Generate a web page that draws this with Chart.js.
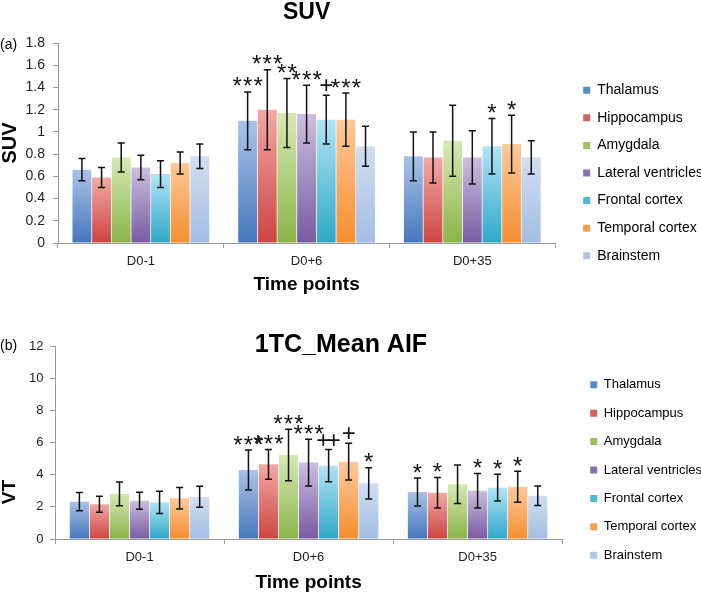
<!DOCTYPE html>
<html>
<head>
<meta charset="utf-8">
<script src="https://cdn.jsdelivr.net/npm/chart.js@4.4.1/dist/chart.umd.min.js"></script>
<style>
  html, body { margin: 0; padding: 0; background: #fff; overflow: hidden; }
  #wrap { position: relative; width: 701px; height: 594px; overflow: hidden; }
  canvas { position: absolute; left: 0; }
  #suvChart { top: 0; }
  #vtChart { top: 297px; }
</style>
</head>
<body>
<div id="wrap">
  <canvas id="suvChart" width="713" height="346"></canvas>
  <canvas id="vtChart" width="713" height="297"></canvas>
</div>
<script>
const timePoints = ["D0-1", "D0+6", "D0+35"];
const regions = ["Thalamus", "Hippocampus", "Amygdala", "Lateral ventricles",
  "Frontal cortex", "Temporal cortex", "Brainstem"];

// one row per region, one value per time point
const suvMean = [
  [0.66, 1.10, 0.78],
  [0.59, 1.20, 0.77],
  [0.77, 1.17, 0.92],
  [0.68, 1.16, 0.77],
  [0.62, 1.11, 0.87],
  [0.72, 1.11, 0.89],
  [0.78, 0.87, 0.77]
];
const suvSd = [
  [0.10, 0.26, 0.22],
  [0.09, 0.36, 0.23],
  [0.13, 0.31, 0.32],
  [0.11, 0.26, 0.24],
  [0.12, 0.22, 0.25],
  [0.10, 0.24, 0.26],
  [0.11, 0.18, 0.15]
];
const suvSig = [
  ["", "***", ""],
  ["", "***", ""],
  ["", "**", ""],
  ["", "***", ""],
  ["", "+", "*"],
  ["", "***", "*"],
  ["", "", ""]
];

const vtMean = [
  [2.32, 4.29, 2.92],
  [2.16, 4.64, 2.88],
  [2.80, 5.22, 3.40],
  [2.38, 4.75, 3.00],
  [2.28, 4.56, 3.19],
  [2.53, 4.81, 3.25],
  [2.63, 3.46, 2.69]
];
const vtSd = [
  [0.57, 1.24, 0.87],
  [0.50, 0.93, 0.95],
  [0.74, 1.60, 1.20],
  [0.53, 1.45, 1.07],
  [0.69, 1.00, 0.83],
  [0.67, 1.14, 0.97],
  [0.65, 0.97, 0.60]
];
const vtSig = [
  ["", "***", "*"],
  ["", "***", "*"],
  ["", "***", ""],
  ["", "***", "*"],
  ["", "++", "*"],
  ["", "+", "*"],
  ["", "*", ""]
];

const suvMax = 1.8, suvStep = 0.2;
const vtMax = 12, vtStep = 2;

// light top, dark bottom, legend swatch
const shades = [
  ["#aac3e6", "#4477bd", "#5a8acb"],
  ["#f3a8a5", "#cc4541", "#d65f5b"],
  ["#d7e9b4", "#8ab348", "#9dc160"],
  ["#ccbee0", "#785aa2", "#8a70b0"],
  ["#b2e4f5", "#2ea8c8", "#4cb9d6"],
  ["#fdc99b", "#f68e2f", "#f79c4a"],
  ["#d2def1", "#a3bde2", "#adc5e6"]
];

Chart.defaults.font.family = "'Liberation Sans', Arial, sans-serif";
Chart.defaults.color = "#222";

function barFill(i) {
  return function (c) {
    const [light, dark, swatch] = shades[i];
    if (c.type !== "data" || !c.chart.chartArea) return swatch;
    const y = c.chart.scales.y;
    const top = y.getPixelForValue(c.raw);
    const base = y.getPixelForValue(0);
    const g = c.chart.ctx.createLinearGradient(0, top, 0, base);
    g.addColorStop(0, light);
    g.addColorStop(1, dark);
    return g;
  };
}

function buildDatasets(means, sds, marks) {
  return regions.map((name, i) => ({
    label: name,
    data: means[i],
    errors: sds[i],
    marks: marks[i],
    yAxisID: "y",
    backgroundColor: barFill(i),
    borderWidth: 0,
    categoryPercentage: 0.83,
    barPercentage: 0.96
  }));
}

function legendLabels(chart) {
  const items = Chart.defaults.plugins.legend.labels.generateLabels(chart);
  items.forEach((it) => {
    it.fillStyle = shades[it.datasetIndex][2];
    it.lineWidth = 0;
  });
  return items;
}

// error bars and significance marks
const errorBars = {
  id: "errorBars",
  afterDatasetsDraw(chart, args, opts) {
    const ctx = chart.ctx;
    const y = chart.scales.y;
    chart.data.datasets.forEach((ds, i) => {
      const meta = chart.getDatasetMeta(i);
      meta.data.forEach((bar, j) => {
        const m = ds.data[j], s = ds.errors[j];
        const yt = y.getPixelForValue(m + s);
        const yb = y.getPixelForValue(m - s);
        ctx.save();
        ctx.strokeStyle = "#111";
        ctx.lineWidth = 1.5;
        ctx.beginPath();
        ctx.moveTo(bar.x, yt); ctx.lineTo(bar.x, yb);
        ctx.moveTo(bar.x - 3.5, yt); ctx.lineTo(bar.x + 3.5, yt);
        ctx.moveTo(bar.x - 3.5, yb); ctx.lineTo(bar.x + 3.5, yb);
        ctx.stroke();
        const mark = ds.marks[j];
        if (mark) {
          ctx.fillStyle = "#111";
          ctx.font = opts.markFont;
          ctx.textAlign = "center";
          ctx.textBaseline = "alphabetic";
          const n = mark.length;
          for (let k = 0; k < n; k++) {
            const mt = ctx.measureText(mark[k]);
            const cy = yt - opts.markGap;
            const base = cy + (mt.actualBoundingBoxAscent - mt.actualBoundingBoxDescent) / 2;
            ctx.fillText(mark[k], bar.x + (k - (n - 1) / 2) * opts.markStep, base);
          }
        }
        ctx.restore();
      });
    });
  }
};

// free text: panel tags, titles placed over the plot
const panelText = {
  id: "panelText",
  afterDraw(chart, args, opts) {
    const ctx = chart.ctx;
    (opts.items || []).forEach((t) => {
      ctx.save();
      ctx.font = t.font;
      ctx.fillStyle = "#000";
      ctx.textAlign = t.align || "center";
      ctx.textBaseline = "middle";
      ctx.translate(t.x, t.y);
      if (t.rotate) ctx.rotate(t.rotate);
      ctx.fillText(t.text, 0, 0);
      ctx.restore();
    });
  }
};

function makeChart(id, datasets, cfg) {
  return new Chart(document.getElementById(id), {
    type: "bar",
    data: { labels: timePoints, datasets: datasets },
    plugins: [errorBars, panelText],
    options: {
      responsive: false,
      animation: false,
      layout: { padding: cfg.padding },
      plugins: {
        tooltip: { enabled: false },
        title: cfg.title,
        legend: {
          position: "right",
          maxWidth: 220,
          labels: {
            boxWidth: 7,
            boxHeight: 7,
            padding: cfg.legendPad,
            color: "#000",
            font: { size: cfg.legendFont },
            generateLabels: legendLabels
          }
        },
        errorBars: { markFont: "24px 'Liberation Sans', Arial", markGap: 10, markStep: 10.5 },
        panelText: { items: cfg.texts }
      },
      scales: {
        x: {
          grid: { offset: true, drawOnChartArea: false, tickLength: 5, color: "#999" },
          border: { color: "#999" },
          ticks: { font: { size: 13 }, color: "#222", padding: 6 },
          title: {
            display: true,
            text: "Time points",
            color: "#000",
            font: { size: 19, weight: "bold" },
            padding: { top: 0, bottom: cfg.xTitlePad }
          },
          afterFit: (s) => { s.width = s.width; s.height = cfg.xHeight; }
        },
        y: {
          min: 0,
          max: cfg.max,
          ticks: {
            stepSize: cfg.step,
            font: { size: cfg.yFont },
            color: "#222",
            padding: cfg.yPad,
            callback: (v) => String(Math.round(v * 10) / 10)
          },
          grid: { drawOnChartArea: false, tickLength: 5, color: "#999" },
          border: { color: "#999" },
          title: cfg.yTitle,
          afterFit: (s) => { s.width = cfg.yWidth; }
        },
        gap: {
          type: "linear",
          position: "right",
          grid: { display: false },
          border: { display: false },
          ticks: { display: false },
          afterFit: (s) => { s.width = cfg.gapWidth; }
        }
      }
    }
  });
}

makeChart("suvChart", buildDatasets(suvMean, suvSd, suvSig), {
  padding: { top: 0, right: 0, bottom: 0, left: 0 },
  title: {
    display: true,
    text: "SUV",
    fullSize: false,
    color: "#000",
    font: { size: 23, weight: "bold", lineHeight: 1 },
    padding: { top: 1.5, bottom: 18.5 }
  },
  legendPad: 13.6,
  legendFont: 14,
  xTitlePad: 49.6,
  xHeight: 103,
  max: suvMax,
  step: suvStep,
  yFont: 14,
  yPad: 8,
  yWidth: 58,
  gapWidth: 14.4,
  yTitle: {
    display: true,
    text: "SUV",
    color: "#000",
    font: { size: 20, weight: "bold", lineHeight: 1 },
    padding: { top: 0, bottom: 0 }
  },
  texts: [
    { text: "(a)", x: 0, y: 45, align: "left", font: "14px 'Liberation Sans', Arial" }
  ]
});

makeChart("vtChart", buildDatasets(vtMean, vtSd, vtSig), {
  padding: { top: 49, right: 1, bottom: 0, left: 0 },
  title: { display: false },
  legendPad: 15.4,
  legendFont: 13,
  xTitlePad: 0,
  xHeight: 55,
  max: vtMax,
  step: vtStep,
  yFont: 13,
  yPad: 6.5,
  yWidth: 55,
  gapWidth: 12.7,
  yTitle: { display: false },
  texts: [
    { text: "(b)", x: 0, y: 49, align: "left", font: "14px 'Liberation Sans', Arial" },
    { text: "1TC_Mean AIF", x: 341, y: 48, font: "bold 25px 'Liberation Sans', Arial" },
    { text: "VT", x: 10, y: 195, rotate: -Math.PI / 2, font: "bold 19px 'Liberation Sans', Arial" }
  ]
});
</script>
</body>
</html>
